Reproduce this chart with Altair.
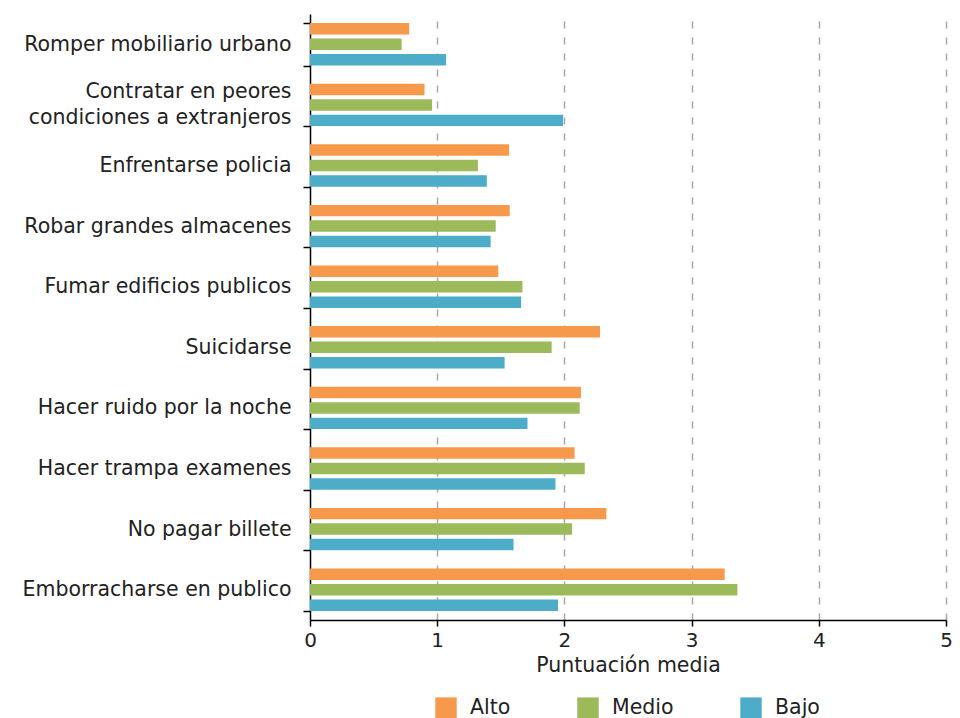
import altair as alt
import pandas as pd

categorias = [
    "Romper mobiliario urbano",
    "Contratar en peores condiciones a extranjeros",
    "Enfrentarse policia",
    "Robar grandes almacenes",
    "Fumar edificios publicos",
    "Suicidarse",
    "Hacer ruido por la noche",
    "Hacer trampa examenes",
    "No pagar billete",
    "Emborracharse en publico",
]
alto = [0.78, 0.90, 1.565, 1.57, 1.48, 2.28, 2.13, 2.08, 2.33, 3.26]
medio = [0.72, 0.96, 1.32, 1.46, 1.67, 1.90, 2.12, 2.16, 2.06, 3.36]
bajo = [1.07, 1.99, 1.39, 1.42, 1.66, 1.53, 1.71, 1.93, 1.60, 1.95]
niveles = ["Alto", "Medio", "Bajo"]
colores = ["#F7994A", "#9DBA5A", "#4DACC7"]
ticks_x = [0, 1, 2, 3, 4, 5]

rows = []
for serie, nivel in zip([alto, medio, bajo], niveles):
    for c, v in zip(categorias, serie):
        rows.append({"categoria": c, "nivel": nivel, "valor": v})
df = pd.DataFrame(rows)

FONT = "DejaVu Sans"
FS = 20.5

LARGA = "Contratar en peores condiciones a extranjeros"
label_expr = (
    f"datum.value == '{LARGA}' ? "
    "['Contratar en peores', 'condiciones a extranjeros'] : datum.value"
)

chart = alt.Chart(df).mark_bar().encode(
    x=alt.X(
        "valor:Q",
        scale=alt.Scale(domain=[0, 5], nice=False),
        axis=alt.Axis(
            values=ticks_x,
            format="d",
            title="Puntuación media",
            grid=True,
            gridDash=[7, 9],
            gridColor="#A8A8A8",
            gridWidth=1.5,
            gridOpacity={"condition": {"test": "datum.value === 0", "value": 0}, "value": 1},
            domainColor="black",
            domainWidth=1.5,
            tickColor="black",
            tickWidth=1.5,
            tickSize=6,
            labelFlush=False,
            labelFontSize=20,
            labelColor="#222222",
            labelPadding=4,
            titleFontSize=FS,
            titleFontWeight="normal",
            titleColor="#222222",
            titlePadding=5,
        ),
    ),
    y=alt.Y(
        "categoria:N",
        sort=categorias,
        scale=alt.Scale(paddingInner=0.3, paddingOuter=0.15),
        axis=alt.Axis(
            title=None,
            tickBand="extent",
            labelExpr=label_expr,
            labelFontSize=FS,
            labelColor="#222222",
            labelLineHeight=26,
            labelLimit=0,
            labelPadding=12,
            labelOffset={"condition": {"test": f"datum.value == '{LARGA}'", "value": -13}, "value": 0},
            tickSize=7,
            tickColor="black",
            tickWidth=1.5,
            domainColor="black",
            domainWidth=1.5,
            grid=False,
        ),
    ),
    yOffset=alt.YOffset("nivel:N", sort=niveles, scale=alt.Scale(paddingInner=0.26)),
    color=alt.Color(
        "nivel:N",
        sort=niveles,
        scale=alt.Scale(domain=niveles, range=colores),
        legend=alt.Legend(
            title=None,
            orient="none",
            legendX=125,
            legendY=683,
            direction="horizontal",
            symbolType="square",
            symbolSize=460,
            symbolStrokeWidth=0,
            labelFontSize=FS,
            labelColor="#222222",
            labelOffset=13,
            labelLimit=0,
            columnPadding=66,
        ),
    ),
).properties(
    width=636,
    height=606,
    autosize=alt.AutoSizeParams(type="none"),
    padding={"left": 302, "top": 6, "right": 6, "bottom": 98},
).configure(
    font=FONT,
).configure_view(stroke=None)

chart.save("out.html", embed_options={"renderer": "svg", "actions": False})
